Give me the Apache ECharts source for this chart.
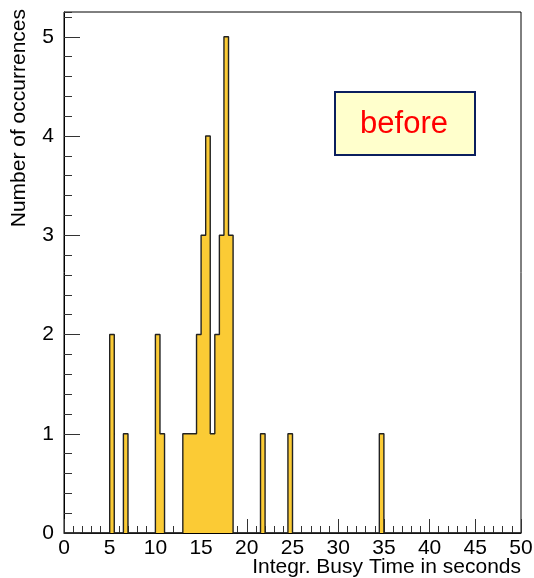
<!DOCTYPE html>
<html>
<head>
<meta charset="utf-8">
<script src="https://cdn.jsdelivr.net/npm/echarts@6/dist/echarts.min.js"></script>
<style>
html,body{margin:0;padding:0;background:#fff;}
#chart{width:534px;height:578px;}
</style>
</head>
<body>
<div id="chart"></div>
<script>
// Histogram: bins of width 0.5 from 0 to 50; listed by lower bin edge
const binLowEdges = [5.0, 6.5, 10.0, 10.5, 13.0, 13.5, 14.0, 14.5, 15.0, 15.5, 16.0, 16.5, 17.0, 17.5, 18.0, 21.5, 24.5, 34.5];
const binCounts   = [2,   1,   2,    1,    1,    1,    1,    2,    3,    4,    1,    2,    3,    5,    3,    1,    1,    1];
const binWidth = 0.5;
const xMin = 0, xMax = 50;
const yMax = 5.25;
const legendText = 'before';
const xTitle = 'Integr. Busy Time in seconds';
const yTitle = 'Number of occurrences';

// build step-outline points for all bins
const nBins = Math.round((xMax - xMin) / binWidth);
const counts = new Array(nBins).fill(0);
binLowEdges.forEach((lo, i) => {
  counts[Math.round((lo - xMin) / binWidth)] = binCounts[i];
});
const stepData = [];
for (let i = 0; i < nBins; i++) stepData.push([xMin + i * binWidth, counts[i]]);
stepData.push([xMax, 0]);

const font = 'Liberation Sans, Arial, Helvetica, sans-serif';
const chart = echarts.init(document.getElementById('chart'), null, {renderer: 'canvas'});
const option = {
  animation: false,
  backgroundColor: '#ffffff',
  grid: {
    left: 64, right: 13, top: 12, bottom: 45,
    show: true, borderColor: '#000', borderWidth: 1,
    outerBoundsMode: 'none', containLabel: false
  },
  xAxis: {
    type: 'value', min: xMin, max: xMax, interval: 5,
    axisLine: {show: true, lineStyle: {color: '#000', width: 1}},
    axisTick: {show: true, inside: true, length: 14, lineStyle: {color: '#333', width: 1}},
    minorTick: {show: true, splitNumber: 5, length: 7, lineStyle: {color: '#333', width: 1}},
    splitLine: {show: false},
    axisLabel: {color: '#000', fontSize: 21, fontFamily: font, margin: 5}
  },
  yAxis: [{
    type: 'value', min: 0, max: yMax, interval: 1,
    axisLine: {show: true, lineStyle: {color: '#000', width: 1}},
    axisTick: {show: true, inside: true, length: 16, lineStyle: {color: '#333', width: 1}},
    splitLine: {show: false},
    axisLabel: {color: '#000', fontSize: 21, fontFamily: font, margin: 10, showMaxLabel: false,
      formatter: v => (Math.abs(v - Math.round(v)) < 1e-6 ? String(Math.round(v)) : '')}
  }, {
    type: 'value', min: 0, max: yMax, interval: 0.2, position: 'left',
    axisLine: {show: false},
    axisTick: {show: true, inside: true, length: 8, lineStyle: {color: '#333', width: 1}},
    splitLine: {show: false},
    axisLabel: {show: false}
  }],
  series: [{
    type: 'line', step: 'end', data: stepData, yAxisIndex: 0,
    symbol: 'none', showSymbol: false,
    lineStyle: {color: '#222', width: 1.4},
    areaStyle: {color: '#fbcb35', opacity: 1, origin: 'start'},
    z: 1
  }],
  graphic: [
    {type: 'text', x: 521, y: 567, style: {text: xTitle, fill: '#000', font: '21px ' + font, align: 'right', verticalAlign: 'middle'}},
    {type: 'text', x: 19, y: 9, rotation: Math.PI / 2, style: {text: yTitle, fill: '#000', font: '21px ' + font, align: 'right', verticalAlign: 'middle'}},
    {type: 'rect', shape: {x: 335, y: 92, width: 140, height: 63}, style: {fill: '#ffffcc', stroke: '#0b1f5e', lineWidth: 2}},
    {type: 'text', x: 404, y: 124, style: {text: legendText, fill: '#ff0000', font: '31px ' + font, align: 'center', verticalAlign: 'middle'}}
  ]
};
chart.setOption(option);
</script>
</body>
</html>
